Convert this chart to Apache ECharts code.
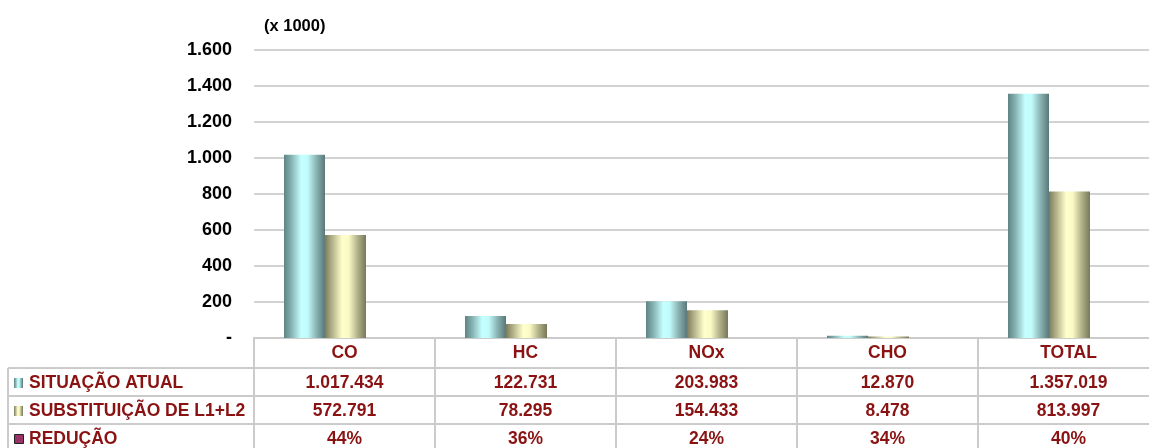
<!DOCTYPE html>
<html>
<head>
<meta charset="utf-8">
<script src="https://cdn.jsdelivr.net/npm/echarts@6/dist/echarts.min.js"></script>
<style>
  html, body { margin: 0; padding: 0; background: #ffffff; overflow: hidden; }
  /* the table's last column runs past the right edge of the window */
  #chart { width: 1160px; height: 448px; }
</style>
</head>
<body>
<div id="chart"></div>
<script>
// Emissões por poluente (valores absolutos; eixo em milhares)
const categories = ['CO', 'HC', 'NOx', 'CHO', 'TOTAL'];
const situacaoAtual = [1017434, 122731, 203983, 12870, 1357019];
const substituicao = [572791, 78295, 154433, 8478, 813997];
const reducaoPct = [44, 36, 24, 34, 40];
const yTicks = [0, 200, 400, 600, 800, 1000, 1200, 1400, 1600];

const seriesNames = ['SITUAÇÃO ATUAL', 'SUBSTITUIÇÃO DE L1+L2', 'REDUÇÃO'];

const FONT = '"Liberation Sans", Arial, Helvetica, sans-serif';
const RED = '#8a1212';
const LINE = '#cbcbcb';
const FS = 17.5;

// 1234567 -> "1.234.567"
function fmtDots(n) {
  return String(Math.round(n)).replace(/\B(?=(\d{3})+(?!\d))/g, '.');
}

const gradAtual = new echarts.graphic.LinearGradient(0, 0, 1, 0, [
  { offset: 0, color: '#5e8484' },
  { offset: 0.18, color: '#86b2b2' },
  { offset: 0.42, color: '#c6ffff' },
  { offset: 0.58, color: '#c0fafa' },
  { offset: 0.8, color: '#88b0b0' },
  { offset: 1, color: '#5a7878' }
]);
const gradSubst = new echarts.graphic.LinearGradient(0, 0, 1, 0, [
  { offset: 0, color: '#7c7c5c' },
  { offset: 0.18, color: '#b4b48c' },
  { offset: 0.42, color: '#ffffcc' },
  { offset: 0.58, color: '#fafac6' },
  { offset: 0.8, color: '#b0b088' },
  { offset: 1, color: '#78785a' }
]);

const chart = echarts.init(document.getElementById('chart'), null, { renderer: 'canvas' });

const textBase = { color: RED, fontFamily: FONT, fontWeight: 'bold', fontSize: FS, lineHeight: 18 };

function rowAxis(offset, values) {
  return {
    gridIndex: 0, type: 'category', data: categories, position: 'bottom', offset: offset,
    axisLine: { show: false }, axisTick: { show: false },
    axisLabel: Object.assign({}, textBase, { margin: 6, interval: 0, formatter: (v, i) => values[i] })
  };
}

const option = {
  animation: false,
  backgroundColor: '#ffffff',
  grid: [
    // axes, gridlines and data table columns
    { left: 254, top: 50, width: 905, height: 288, containLabel: false },
    // bars
    { left: 234.5, top: 50, width: 905, height: 288, containLabel: false }
  ],
  xAxis: [
    {
      gridIndex: 0, type: 'category', data: categories,
      axisLine: { lineStyle: { color: LINE, width: 2 } },
      axisTick: { show: true, inside: false, length: 112, interval: 0, lineStyle: { color: LINE, width: 2 } },
      axisLabel: Object.assign({}, textBase, { margin: 6, interval: 0 })
    },
    rowAxis(30, situacaoAtual.map(fmtDots)),
    rowAxis(58, substituicao.map(fmtDots)),
    rowAxis(86, reducaoPct.map(p => p + '%')),
    { gridIndex: 1, type: 'category', data: categories, show: false }
  ],
  yAxis: [
    {
      gridIndex: 0, type: 'value', min: yTicks[0], max: yTicks[yTicks.length - 1], interval: 200,
      axisLine: { show: false }, axisTick: { show: false },
      axisLabel: {
        color: '#000', fontFamily: FONT, fontWeight: 'bold', fontSize: 18, margin: 22,
        formatter: v => (v === 0 ? '-' : fmtDots(v))
      },
      splitLine: { lineStyle: { color: '#d2d2d2', width: 2 } }
    },
    { gridIndex: 1, type: 'value', min: 0, max: 1600, interval: 200, show: false }
  ],
  series: [
    {
      name: seriesNames[0], type: 'bar', xAxisIndex: 4, yAxisIndex: 1,
      data: situacaoAtual.map(v => v / 1000),
      barWidth: 41, barGap: '0%',
      itemStyle: { color: gradAtual },
      emphasis: { disabled: true }
    },
    {
      name: seriesNames[1], type: 'bar', xAxisIndex: 4, yAxisIndex: 1,
      data: substituicao.map(v => v / 1000),
      barWidth: 41, barGap: '0%',
      itemStyle: { color: gradSubst },
      emphasis: { disabled: true }
    }
  ],
  graphic: [
    // axis unit
    { type: 'text', left: 264, top: 18, style: { text: '(x 1000)', fill: '#000', font: 'bold 16.5px ' + FONT } },
    // table frame (row column)
    { type: 'line', shape: { x1: 8, y1: 368, x2: 1160, y2: 368 }, style: { stroke: LINE, lineWidth: 2 } },
    { type: 'line', shape: { x1: 8, y1: 396, x2: 1160, y2: 396 }, style: { stroke: LINE, lineWidth: 2 } },
    { type: 'line', shape: { x1: 8, y1: 424, x2: 1160, y2: 424 }, style: { stroke: LINE, lineWidth: 2 } },
    { type: 'line', shape: { x1: 8, y1: 368, x2: 8, y2: 448 }, style: { stroke: LINE, lineWidth: 2 } },
    // row keys
    { type: 'rect', shape: { x: 14, y: 378, width: 9, height: 10 }, style: { fill: gradAtual } },
    { type: 'rect', shape: { x: 14, y: 406, width: 9, height: 10 }, style: { fill: gradSubst } },
    { type: 'rect', shape: { x: 14.5, y: 434.5, width: 9, height: 9 }, style: { fill: '#993366', stroke: '#222', lineWidth: 1 } },
    // row names
    { type: 'text', left: 29, top: 374, style: { text: seriesNames[0], fill: RED, font: 'bold ' + FS + 'px ' + FONT } },
    { type: 'text', left: 29, top: 402, style: { text: seriesNames[1], fill: RED, font: 'bold ' + FS + 'px ' + FONT } },
    { type: 'text', left: 29, top: 430, style: { text: seriesNames[2], fill: RED, font: 'bold ' + FS + 'px ' + FONT } }
  ]
};

chart.setOption(option);
</script>
</body>
</html>
